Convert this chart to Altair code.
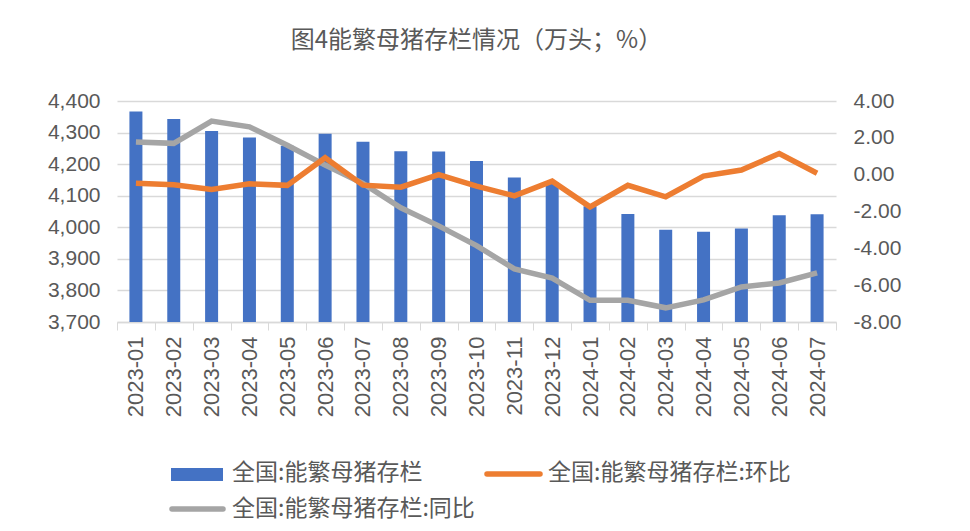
import altair as alt
import pandas as pd

months = ["2023-01", "2023-02", "2023-03", "2023-04", "2023-05", "2023-06", "2023-07",
          "2023-08", "2023-09", "2023-10", "2023-11", "2023-12", "2024-01", "2024-02",
          "2024-03", "2024-04", "2024-05", "2024-06", "2024-07"]
inventory = [4367, 4343, 4305, 4284, 4258, 4296, 4271, 4241, 4240, 4210, 4158, 4142,
             4067, 4042, 3992, 3986, 3996, 4038, 4041]
mom = [-0.47, -0.55, -0.80, -0.50, -0.58, 0.92, -0.57, -0.68, 0.00, -0.62, -1.15, -0.35,
       -1.75, -0.58, -1.20, -0.08, 0.25, 1.15, 0.08]
yoy = [1.78, 1.70, 2.91, 2.60, 1.60, 0.52, -0.48, -1.80, -2.78, -3.85, -5.12, -5.62,
       -6.82, -6.82, -7.23, -6.80, -6.10, -5.88, -5.33]
series_names = ["全国:能繁母猪存栏", "全国:能繁母猪存栏:环比", "全国:能繁母猪存栏:同比"]
colors = ["#4472C4", "#ED7D31", "#A5A5A5"]
left_ticks = [3700, 3800, 3900, 4000, 4100, 4200, 4300, 4400]
right_ticks = [-8, -6, -4, -2, 0, 2, 4]
title_text = "图4能繁母猪存栏情况（万头；%）"

CJK = "Noto Sans CJK SC"
NUM = "Liberation Sans"
TXT = "#595959"
GRID = "#D9D9D9"

df = pd.DataFrame({"month": months, "inv": inventory, "mom": mom, "yoy": yoy})

W, H = 719, 221

xenc = alt.X("month:N", sort=months, title=None,
             scale=alt.Scale(paddingInner=0, paddingOuter=0),
             axis=alt.Axis(labelAngle=-90, labelFont=NUM, labelFontSize=22,
                           labelColor=TXT, labelPadding=6, tickBand="extent",
                           tickSize=8, tickColor=GRID, domainColor=GRID,
                           domainWidth=1.5, labelAlign="right", labelBaseline="middle"))

bars = alt.Chart(df).mark_bar(size=13, color=colors[0]).encode(
    x=xenc,
    y=alt.Y("inv:Q", title=None,
            scale=alt.Scale(domain=[3700, 4400], nice=False, zero=False),
            axis=alt.Axis(values=left_ticks, format=",.0f", labelFont=NUM, labelFontSize=21,
                          labelColor=TXT, labelPadding=17, ticks=False, domain=False,
                          grid=True, gridColor=GRID, gridWidth=1.3)),
    y2=alt.datum(3700),
)

rightaxis = alt.Axis(values=right_ticks, orient="right", labelFont=NUM, labelFontSize=21,
                     labelColor=TXT, labelPadding=17, ticks=False, domain=False, grid=False,
                     labelExpr="(datum.value < 0 ? '-' : '') + format(abs(datum.value), '.2f')")
rscale = alt.Scale(domain=[-8, 4], nice=False, zero=False)

line_yoy = alt.Chart(df).mark_line(color=colors[2], strokeWidth=5.5).encode(
    x=alt.X("month:N", sort=months),
    y=alt.Y("yoy:Q", title=None, scale=rscale, axis=rightaxis),
)
line_mom = alt.Chart(df).mark_line(color=colors[1], strokeWidth=5.5).encode(
    x=alt.X("month:N", sort=months),
    y=alt.Y("mom:Q", title=None, scale=rscale, axis=None),
)

one = pd.DataFrame({"k": [0]})
leg_rect = alt.Chart(one).mark_rect(color=colors[0]).encode(
    x=alt.value(54), x2=alt.value(106), y=alt.value(367), y2=alt.value(380))
leg_orange = alt.Chart(one).mark_rule(color=colors[1], strokeWidth=5.5, strokeCap="round").encode(
    x=alt.value(370), x2=alt.value(423), y=alt.value(373))
leg_gray = alt.Chart(one).mark_rule(color=colors[2], strokeWidth=5.5, strokeCap="round").encode(
    x=alt.value(55), x2=alt.value(106), y=alt.value(408))

def leg_text(label, x, y):
    return alt.Chart(one).mark_text(align="left", baseline="middle", font=CJK,
                                    fontSize=23, color=TXT).encode(
        x=alt.value(x), y=alt.value(y), text=alt.value(label))

chart = alt.layer(
    bars, line_yoy, line_mom,
    leg_rect, leg_orange, leg_gray,
    leg_text(series_names[0], 115, 372),
    leg_text(series_names[1], 431, 372),
    leg_text(series_names[2], 115, 408),
).resolve_scale(y="independent").properties(
    width=W, height=H,
    autosize=alt.AutoSizeParams(type="none"),
    padding={"left": 109, "top": 93, "right": 120, "bottom": 200},
    title=alt.Title(title_text, font=CJK, fontSize=24, fontWeight="normal", color=TXT,
                    anchor="middle", frame="group", offset=37),
).configure_view(stroke=None)

chart.save("out.html", embed_options={"renderer": "svg", "actions": False})
